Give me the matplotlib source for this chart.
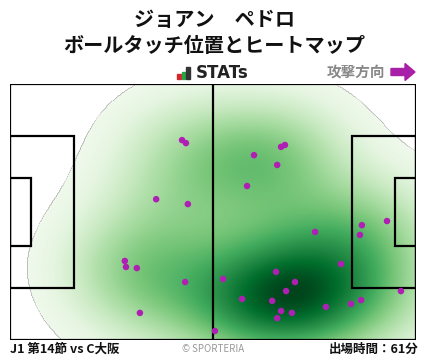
import numpy as np
import matplotlib.pyplot as plt
from matplotlib.patches import Rectangle, FancyArrow

plt.rcParams['font.family'] = ['Noto Sans CJK JP', 'DejaVu Sans']

# ball touch positions (metres, pitch 105 x 68, attacking to the right)
touch_x = [44.5, 45.5, 37.8, 46.0, 71.1, 70.1, 63.1, 69.1, 61.3, 97.5,
           29.7, 30.0, 32.8, 45.3, 33.6, 91.0, 90.5, 78.9, 85.6, 68.8,
           55.1, 73.7, 71.4, 101.1, 60.0, 67.8, 90.8, 88.2, 81.7, 70.1,
           72.9, 69.1, 53.0]
touch_y = [53.1, 52.3, 37.4, 36.1, 51.8, 51.3, 49.1, 46.5, 40.9, 31.6,
           21.0, 19.4, 19.1, 15.4, 7.2, 30.5, 27.9, 28.7, 20.2, 18.1,
           16.2, 15.4, 13.0, 13.0, 10.9, 10.4, 10.6, 9.6, 8.8, 7.7,
           7.2, 5.8, 2.4]

title_lines = ["ジョアン　ペドロ", "ボールタッチ位置とヒートマップ"]
match_label = "J1 第14節 vs C大阪"
minutes_label = "出場時間：61分"

L, W = 105.0, 68.0

fig = plt.figure(figsize=(4.28, 3.59), dpi=100)
ax = fig.add_axes([10 / 428, 19 / 359, 406 / 428, 256 / 359])

# heat map from a gaussian kernel density of the touches
gx = np.linspace(0, L, 420)
gy = np.linspace(0, W, 272)
X, Y = np.meshgrid(gx, gy)
tx = np.array(touch_x)
ty = np.array(touch_y)
Z = np.zeros_like(X)
sx, sy = 14.0, 11.0
for px, py in zip(tx, ty):
    Z += np.exp(-((X - px) ** 2 / (2 * sx ** 2) + (Y - py) ** 2 / (2 * sy ** 2)))
Z = Z / Z.max()
Z = np.ma.masked_less(Z, 0.055)
ax.imshow(Z, extent=(0, L, 0, W), origin='lower', cmap='Greens',
          vmin=0.0, vmax=1.0, aspect='auto', interpolation='bilinear', zorder=1)

# pitch lines
lw = 1.6
ax.add_patch(Rectangle((0, 0), L, W, fill=False, lw=lw, ec='black', zorder=3))
ax.plot([L / 2, L / 2], [0, W], color='black', lw=lw, zorder=3)
pb_d, pb_w = 16.5, 40.3
ga_d, ga_w = 5.5, 18.3
ax.add_patch(Rectangle((0, (W - pb_w) / 2), pb_d, pb_w, fill=False, lw=lw, ec='black', zorder=3))
ax.add_patch(Rectangle((L - pb_d, (W - pb_w) / 2), pb_d, pb_w, fill=False, lw=lw, ec='black', zorder=3))
ax.add_patch(Rectangle((0, (W - ga_w) / 2), ga_d, ga_w, fill=False, lw=lw, ec='black', zorder=3))
ax.add_patch(Rectangle((L - ga_d, (W - ga_w) / 2), ga_d, ga_w, fill=False, lw=lw, ec='black', zorder=3))

ax.scatter(tx, ty, s=22, color='#b01fb4', edgecolors='none', zorder=4)

ax.set_xlim(0, L)
ax.set_ylim(0, W)
ax.axis('off')

# header
fig.text(0.5, 1 - 20 / 359, title_lines[0], ha='center', va='center',
         fontsize=14.5, fontweight='bold', color='#111111')
fig.text(0.5, 1 - 46 / 359, title_lines[1], ha='center', va='center',
         fontsize=14.5, fontweight='bold', color='#111111')

# STATs logo
for i, (h, c) in enumerate([(5, '#d7262b'), (7, '#26a448'), (12, '#333333')]):
    fig.patches.append(Rectangle(((177 + i * 4.5) / 428, 1 - 79 / 359), 3.5 / 428, h / 359,
                                 transform=fig.transFigure, color=c, figure=fig))
fig.text(196 / 428, 1 - 73 / 359, "STATs", ha='left', va='center',
         fontsize=12, fontweight='bold', color='#222222', family=['DejaVu Sans'])

fig.text(385 / 428, 1 - 72 / 359, "攻撃方向", ha='right', va='center',
         fontsize=10.5, fontweight='bold', color='#888888')
fig.patches.append(FancyArrow(391 / 428, 1 - 72 / 359, 14 / 428, 0, width=7 / 359,
                              head_width=17 / 359, head_length=10 / 428,
                              length_includes_head=False, transform=fig.transFigure,
                              color='#a81fa8', figure=fig))

# footer
fig.text(10 / 428, 1 - 349 / 359, match_label, ha='left', va='center',
         fontsize=9, fontweight='bold', color='#111111')
fig.text(213 / 428, 1 - 349 / 359, "© SPORTERIA", ha='center', va='center',
         fontsize=7, color='#999999')
fig.text(418 / 428, 1 - 349 / 359, minutes_label, ha='right', va='center',
         fontsize=9, fontweight='bold', color='#111111')

fig.savefig('out.png', dpi=100)
